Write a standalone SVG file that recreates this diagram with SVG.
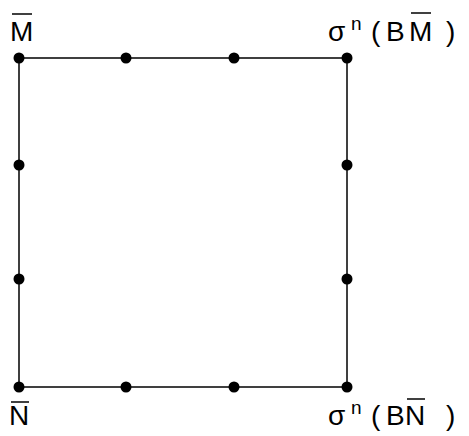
<svg xmlns="http://www.w3.org/2000/svg" width="469" height="436" viewBox="0 0 469 436">
<style>
text{font-family:"Liberation Sans",Arial,sans-serif;font-size:28px;fill:#000}
.sup{font-size:19px}
.bar{stroke:#000;stroke-width:1.5}
.edge{stroke:#000;stroke-width:1.5;fill:none}
.dot{fill:#000}
</style>
<rect width="469" height="436" fill="#fff"/>
<g id="connectors">
<rect class="edge" x="19" y="58" width="328" height="329"/>
</g>
<g id="dots">
<circle class="dot" cx="19" cy="58" r="5.5"/>
<circle class="dot" cx="126" cy="58" r="5.5"/>
<circle class="dot" cx="234" cy="58" r="5.5"/>
<circle class="dot" cx="347" cy="58" r="5.5"/>
<circle class="dot" cx="19" cy="165" r="5.5"/>
<circle class="dot" cx="19" cy="279" r="5.5"/>
<circle class="dot" cx="347" cy="165" r="5.5"/>
<circle class="dot" cx="347" cy="279" r="5.5"/>
<circle class="dot" cx="19" cy="387" r="5.5"/>
<circle class="dot" cx="126" cy="387" r="5.5"/>
<circle class="dot" cx="234" cy="387" r="5.5"/>
<circle class="dot" cx="347" cy="387" r="5.5"/>
</g>
<g id="label-M">
<text x="10" y="41">M</text>
<line class="bar" x1="12" y1="14" x2="32" y2="14"/>
</g>
<g id="label-sigmaBM">
<text x="328" y="41">σ</text>
<text class="sup" x="351" y="30">n</text>
<text x="371" y="41">(</text>
<text x="386" y="41">B</text>
<text x="409" y="41">M</text>
<line class="bar" x1="411" y1="13" x2="431" y2="13"/>
<text x="446" y="41">)</text>
</g>
<g id="label-N">
<text x="9" y="425">N</text>
<line class="bar" x1="11" y1="402" x2="29" y2="402"/>
</g>
<g id="label-sigmaBN">
<text x="328" y="425">σ</text>
<text class="sup" x="351" y="414">n</text>
<text x="371" y="425">(</text>
<text x="386" y="425">B</text>
<text x="405" y="425">N</text>
<line class="bar" x1="407" y1="399" x2="425" y2="399"/>
<text x="446" y="425">)</text>
</g>
</svg>
